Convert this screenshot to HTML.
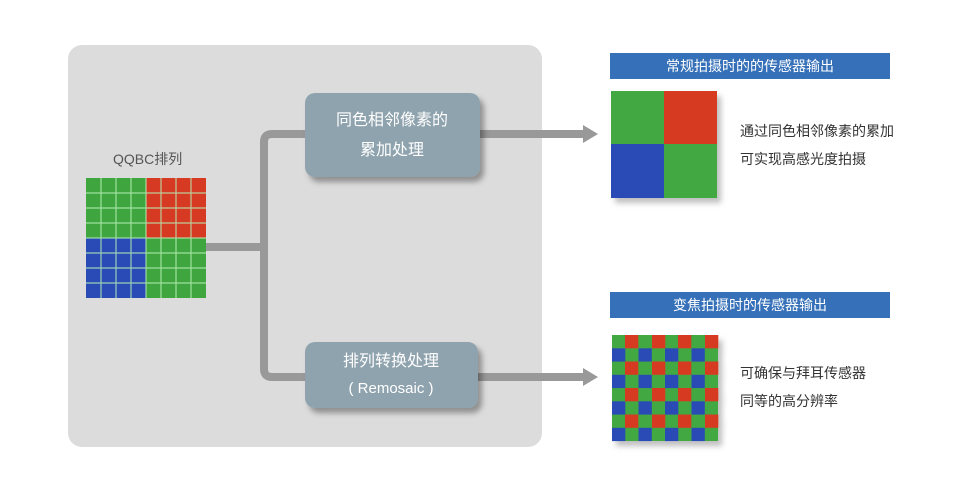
<!DOCTYPE html>
<html><head><meta charset="utf-8"><style>
body{margin:0;background:#fff;width:976px;height:496px;overflow:hidden}
svg text{font-family:"Liberation Sans","Noto Sans CJK SC",sans-serif}
</style></head><body>
<svg width="976" height="496" viewBox="0 0 976 496" xmlns="http://www.w3.org/2000/svg">
<defs>
<filter id="sh" x="-20%" y="-20%" width="150%" height="160%"><feDropShadow dx="4" dy="5" stdDeviation="3" flood-color="#000" flood-opacity="0.35"/></filter>
<filter id="sh2" x="-20%" y="-20%" width="150%" height="150%"><feDropShadow dx="4" dy="5" stdDeviation="3" flood-color="#000" flood-opacity="0.25"/></filter>
</defs>
<rect x="68" y="45" width="474" height="402" rx="14" fill="#dcdcdc"/>
<text x="113" y="164" font-size="14" fill="#555">QQBC排列</text>
<g id="qq">
<rect x="86" y="178" width="60" height="60" fill="#3fa63f"/>
<rect x="146" y="178" width="60" height="60" fill="#d63a22"/>
<rect x="86" y="238" width="60" height="60" fill="#2a4bb5"/>
<rect x="146" y="238" width="60" height="60" fill="#3fa63f"/>
<g stroke="#b8f0b8" stroke-width="1.2" opacity="0.8">
<line x1="101" y1="178" x2="101" y2="298"/><line x1="116" y1="178" x2="116" y2="298"/><line x1="131" y1="178" x2="131" y2="298"/><line x1="146" y1="178" x2="146" y2="298"/><line x1="161" y1="178" x2="161" y2="298"/><line x1="176" y1="178" x2="176" y2="298"/><line x1="191" y1="178" x2="191" y2="298"/>
<line x1="86" y1="193" x2="206" y2="193"/><line x1="86" y1="208" x2="206" y2="208"/><line x1="86" y1="223" x2="206" y2="223"/><line x1="86" y1="238" x2="206" y2="238"/><line x1="86" y1="253" x2="206" y2="253"/><line x1="86" y1="268" x2="206" y2="268"/><line x1="86" y1="283" x2="206" y2="283"/>
</g>
</g>
<g fill="none" stroke="#999" stroke-width="8">
<line x1="206" y1="247" x2="264" y2="247"/>
<path d="M305 134 H272 Q264 134 264 142 V369 Q264 377 272 377 H305"/>
<line x1="480" y1="134" x2="586" y2="134"/>
<line x1="478" y1="377" x2="586" y2="377"/>
</g>
<polygon points="583,125 598,134 583,143" fill="#999"/>
<polygon points="583,368 598,377 583,386" fill="#999"/>
<rect x="305" y="93" width="175" height="84" rx="10" fill="#8fa3ae" filter="url(#sh)"/>
<text x="392" y="125" font-size="16" fill="#fff" text-anchor="middle">同色相邻像素的</text>
<text x="392" y="155" font-size="16" fill="#fff" text-anchor="middle">累加处理</text>
<rect x="305" y="342" width="173" height="66" rx="10" fill="#8fa3ae" filter="url(#sh)"/>
<text x="391" y="366" font-size="16" fill="#fff" text-anchor="middle">排列转换处理</text>
<text x="391" y="393" font-size="15" fill="#fff" text-anchor="middle">( Remosaic )</text>
<rect x="610" y="53" width="280" height="26" fill="#3570b8"/>
<text x="750" y="71" font-size="14" fill="#fff" text-anchor="middle">常规拍摄时的的传感器输出</text>
<g filter="url(#sh2)">
<rect x="611" y="91" width="53" height="53" fill="#43a943"/>
<rect x="664" y="91" width="53" height="53" fill="#d63a22"/>
<rect x="611" y="144" width="53" height="54" fill="#2a4bb5"/>
<rect x="664" y="144" width="53" height="54" fill="#43a943"/>
</g>
<text x="740" y="136" font-size="14" fill="#333">通过同色相邻像素的累加</text>
<text x="740" y="164" font-size="14" fill="#333">可实现高感光度拍摄</text>
<rect x="610" y="292" width="280" height="26" fill="#3570b8"/>
<text x="750" y="310" font-size="14" fill="#fff" text-anchor="middle">变焦拍摄时的传感器输出</text>
<g filter="url(#sh2)">
<rect x="612" y="335" width="106" height="106" fill="#43a943"/>
<g fill="#d63a22">
<rect x="625" y="335" width="13.3" height="13.3"/><rect x="652" y="335" width="13.3" height="13.3"/><rect x="678" y="335" width="13.3" height="13.3"/><rect x="705" y="335" width="13.3" height="13.3"/>
<rect x="625" y="361.5" width="13.3" height="13.3"/><rect x="652" y="361.5" width="13.3" height="13.3"/><rect x="678" y="361.5" width="13.3" height="13.3"/><rect x="705" y="361.5" width="13.3" height="13.3"/>
<rect x="625" y="388" width="13.3" height="13.3"/><rect x="652" y="388" width="13.3" height="13.3"/><rect x="678" y="388" width="13.3" height="13.3"/><rect x="705" y="388" width="13.3" height="13.3"/>
<rect x="625" y="414.5" width="13.3" height="13.3"/><rect x="652" y="414.5" width="13.3" height="13.3"/><rect x="678" y="414.5" width="13.3" height="13.3"/><rect x="705" y="414.5" width="13.3" height="13.3"/>
</g>
<g fill="#2a4bb5">
<rect x="612" y="348.3" width="13.3" height="13.3"/><rect x="638.5" y="348.3" width="13.3" height="13.3"/><rect x="665" y="348.3" width="13.3" height="13.3"/><rect x="691.5" y="348.3" width="13.3" height="13.3"/>
<rect x="612" y="374.8" width="13.3" height="13.3"/><rect x="638.5" y="374.8" width="13.3" height="13.3"/><rect x="665" y="374.8" width="13.3" height="13.3"/><rect x="691.5" y="374.8" width="13.3" height="13.3"/>
<rect x="612" y="401.3" width="13.3" height="13.3"/><rect x="638.5" y="401.3" width="13.3" height="13.3"/><rect x="665" y="401.3" width="13.3" height="13.3"/><rect x="691.5" y="401.3" width="13.3" height="13.3"/>
<rect x="612" y="427.8" width="13.3" height="13.3"/><rect x="638.5" y="427.8" width="13.3" height="13.3"/><rect x="665" y="427.8" width="13.3" height="13.3"/><rect x="691.5" y="427.8" width="13.3" height="13.3"/>
</g>
</g>
<text x="740" y="378" font-size="14" fill="#333">可确保与拜耳传感器</text>
<text x="740" y="406" font-size="14" fill="#333">同等的高分辨率</text>
</svg>
</body></html>
